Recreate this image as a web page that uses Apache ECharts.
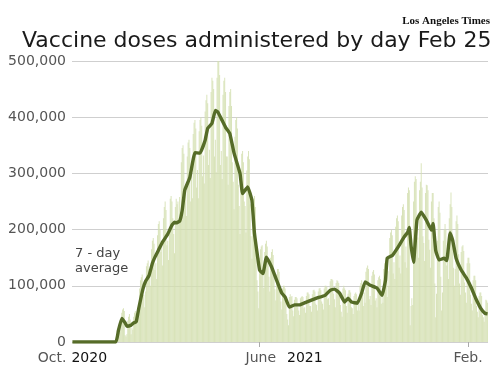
<!DOCTYPE html>
<html>
<head>
<meta charset="utf-8">
<script src="https://cdn.jsdelivr.net/npm/echarts@6/dist/echarts.min.js"></script>
<style>
html,body{margin:0;padding:0;background:#fff;}
#chart{width:500px;height:367px;}
</style>
</head>
<body>
<div id="chart"></div>
<script>
// First day on the axis and number of days shown
const startDate = '2020-10-24';
const dayCount = 489;

// Daily doses (thousands), one row per week starting Saturday
const dailyDosesK = [
  0,0,0,0,0,0,0, 0,0,0,0,0,0,0, 0,0,0,0,0,0,0, 0,0,0,0,0,0,0,
  0,0,0,0,0,0,0, 0,0,0,0,0,0,0, 0,0,0,0,0,0,0,
  0,0,3,8,12,16,20,
  34,30,52,58,60,55,12,
  10,14,38,45,50,40,14,
  26,22,45,52,55,50,34,
  62,48,95,110,115,120,84,
  84,62,90,135,140,145,130,
  128,100,165,180,185,175,128,
  140,112,190,210,215,200,160,
  172,136,220,240,250,235,172,
  180,146,200,255,260,250,220,
  192,158,240,255,245,250,210,
  258,214,320,345,350,335,258,
  268,224,330,355,360,345,250,
  298,256,370,390,395,380,275,
  306,256,375,395,400,385,295,
  332,282,410,430,440,425,315,
  342,292,445,470,465,450,330,
  360,302,470,513,500,475,315,
  340,290,440,465,470,445,330,
  330,280,420,445,450,420,320,
  285,236,365,395,400,380,280,
  242,192,305,335,340,320,250,
  242,195,305,330,340,325,245,
  188,148,240,255,260,240,182,
  110,90,60,150,165,170,172,
  122,96,160,175,180,170,140,
  116,90,150,160,165,155,124,
  94,74,120,130,130,125,94,
  72,58,95,100,100,95,78,
  50,40,30,80,85,80,82,
  56,46,75,80,80,78,62,
  56,48,78,80,82,80,60,
  62,52,82,88,88,85,64,
  64,54,85,92,93,90,68,
  66,56,90,95,96,92,72,
  68,58,95,100,100,98,76,
  78,66,108,112,112,110,86,
  76,62,105,110,108,105,84,
  66,54,45,95,100,95,92,
  64,52,86,92,92,88,62,
  60,50,82,86,88,85,56,
  68,56,100,105,110,102,64,
  88,70,125,132,136,130,76,
  82,66,118,125,128,120,74,
  78,62,110,115,118,112,68,
  88,70,130,140,145,140,80,
  126,100,185,195,200,190,122,
  142,112,205,220,225,215,132,
  154,122,225,240,245,235,142,
  170,132,265,275,270,30,64,
  78,66,250,285,295,290,206,
  186,150,270,285,318,275,188,
  176,144,265,280,279,270,182,
  164,132,250,265,265,220,104,
  44,86,180,240,250,230,116,
  56,88,180,200,210,200,136,
  144,112,220,245,266,240,172,
  132,100,130,215,225,210,156,
  104,84,160,170,172,162,106,
  88,70,140,150,150,140,84,
  68,56,110,118,118,110,64,
  54,44,82,88,88,82,48,
  44,36,48,75,74,70
];

// 7-day average (thousands) read at points along the line
const avgDates = [
  '2020-10-24','2020-12-14','2020-12-17','2020-12-21','2020-12-25','2020-12-27','2021-01-01','2021-01-04',
  '2021-01-07','2021-01-10','2021-01-15','2021-01-18','2021-01-22','2021-01-26','2021-01-29','2021-02-02',
  '2021-02-07','2021-02-13','2021-02-18','2021-02-21','2021-02-23','2021-02-27','2021-03-02','2021-03-05',
  '2021-03-11','2021-03-17','2021-03-23','2021-03-29','2021-04-01','2021-04-06','2021-04-10','2021-04-13',
  '2021-04-18','2021-04-22','2021-04-27','2021-05-02','2021-05-09','2021-05-12','2021-05-18','2021-05-23',
  '2021-05-26','2021-06-01','2021-06-05','2021-06-09','2021-06-15','2021-06-21','2021-06-27','2021-07-01',
  '2021-07-06','2021-07-12','2021-07-18','2021-07-26','2021-08-07','2021-08-17','2021-08-23','2021-08-28',
  '2021-09-03','2021-09-09','2021-09-13','2021-09-17','2021-09-24','2021-09-29','2021-10-03','2021-10-09',
  '2021-10-17','2021-10-23','2021-10-27','2021-10-29','2021-11-04','2021-11-10','2021-11-18','2021-11-22',
  '2021-11-24','2021-11-26','2021-11-29','2021-12-03','2021-12-08','2021-12-14','2021-12-20','2021-12-22',
  '2021-12-25','2021-12-29','2022-01-04','2022-01-07','2022-01-11','2022-01-14','2022-01-18','2022-01-24',
  '2022-01-30','2022-02-05','2022-02-10','2022-02-16','2022-02-21','2022-02-24'
];
const avgValuesK = [
  0,0,20,42,34,28,30,34,
  36,60,95,108,118,140,151,163,
  178,192,208,213,212,215,234,270,
  293,337,336,359,380,389,412,409,
  394,382,371,336,300,264,276,252,
  193,128,122,151,134,110,87,80,
  62,66,66,71,78,83,92,94,
  87,71,78,71,69,87,107,101,
  96,83,110,149,154,167,187,195,
  204,172,142,217,231,217,199,211,
  163,146,149,145,194,181,149,128,
  114,96,78,60,51,50
];

// Axis tick labels
const yTicks = [0, 100000, 200000, 300000, 400000, 500000];
const xLabelDates = { '2020-10-24': ['Oct.', '2020'], '2021-06-01': ['June', '2021'], '2022-02-01': ['Feb.', ''] };

const titleText = 'Vaccine doses administered by day Feb 25';
const sourceText = 'Los Angeles Times';
const noteText = '7 - day\naverage';

// Build category list of days
function fmt(d){
  const m = String(d.getUTCMonth()+1).padStart(2,'0');
  const dd = String(d.getUTCDate()).padStart(2,'0');
  return d.getUTCFullYear()+'-'+m+'-'+dd;
}
const days = [];
const base = new Date(startDate + 'T00:00:00Z');
for (let i = 0; i < dayCount; i++) {
  days.push(fmt(new Date(base.getTime() + i*86400000)));
}
const dayIndex = {};
days.forEach((d,i)=>{ dayIndex[d]=i; });

const barData = dailyDosesK.map(v => v*1000);
const lineData = avgDates.map((d,i) => [dayIndex[d], avgValuesK[i]*1000]);

const chart = echarts.init(document.getElementById('chart'), null, {renderer:'canvas'});
const textFont = 'DejaVu Sans';

chart.setOption({
  animation: false,
  backgroundColor: '#ffffff',
  grid: { left: 72, right: 12, top: 61, bottom: 25, containLabel: false },
  title: [
    { text: titleText, left: 17, top: 25, textStyle: { fontFamily: textFont, fontSize: 22, fontWeight: 'normal', color: '#1a1a1a' } },
    { text: sourceText, right: 5, top: 11, textStyle: { fontFamily: 'Liberation Serif', fontSize: 11, fontWeight: 'bold', color: '#111' } }
  ],
  graphic: [
    { type: 'text', left: 75, top: 246, style: { text: noteText, fontFamily: textFont, fontSize: 13, fill: '#444', align: 'center', lineHeight: 15 } }
  ],
  xAxis: {
    type: 'category',
    data: days,
    boundaryGap: true,
    axisLine: { show: false },
    axisTick: {
      show: true, alignWithLabel: true, length: 5,
      interval: (i, v) => v === '2021-06-01' || v === '2022-02-01',
      lineStyle: { color: '#aaa' }
    },
    axisLabel: {
      interval: (i, v) => xLabelDates[v] !== undefined,
      margin: 9,
      formatter: (v) => {
        const p = xLabelDates[v];
        if (!p) return '';
        if (v === '2021-06-01') return '{pad|}{m|' + p[0] + '}{gap|}{y|' + p[1] + '}';
        if (p[1]) return '{m|' + p[0] + '}{gap2|}{y|' + p[1] + '}';
        return '{m|' + p[0] + '}';
      },
      rich: {
        pad: { width: 49 },
        gap: { width: 11 },
        gap2: { width: 5 },
        m: { fontFamily: textFont, fontSize: 14, color: '#555' },
        y: { fontFamily: textFont, fontSize: 14, color: '#111' }
      }
    }
  },
  yAxis: {
    type: 'value',
    min: 0, max: 500000, interval: 100000,
    axisLine: { show: false },
    axisTick: { show: false },
    splitLine: { show: true, lineStyle: { color: '#cfcfcf', width: 1 } },
    axisLabel: {
      margin: 6,
      fontFamily: textFont, fontSize: 14, color: '#555',
      formatter: (v) => yTicks.includes(v) ? v.toLocaleString('en-US') : ''
    }
  },
  series: [
    {
      type: 'bar',
      data: barData,
      barWidth: '100%',
      itemStyle: { color: '#d3dfb0', opacity: 0.85 },
      silent: true
    },
    {
      type: 'line',
      data: lineData,
      showSymbol: false,
      smooth: 0.1,
      lineStyle: { color: '#566c28', width: 3.4 },
      z: 5,
      silent: true
    }
  ]
});
</script>
</body>
</html>
